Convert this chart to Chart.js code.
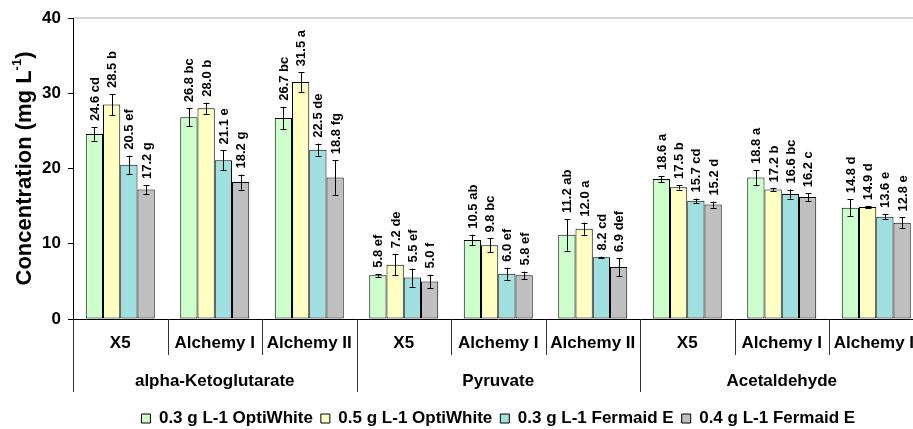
<!DOCTYPE html>
<html>
<head>
<meta charset="utf-8">
<script src="https://cdn.jsdelivr.net/npm/chart.js@4.4.0/dist/chart.umd.min.js"></script>
<style>
html, body { margin: 0; padding: 0; background: #fff; overflow: hidden; }
#caixa { width: 913px; height: 429px; overflow: hidden; }
canvas { display: block; }
</style>
</head>
<body>
<div id="caixa"><canvas id="grafico" width="926" height="429"></canvas></div>
<script>
// dados
const subcategorias = ['X5', 'Alchemy I', 'Alchemy II', 'X5', 'Alchemy I', 'Alchemy II', 'X5', 'Alchemy I', 'Alchemy II'];
const grupos = ['alpha-Ketoglutarate', 'Pyruvate', 'Acetaldehyde'];
const series = ['0.3 g L-1 OptiWhite', '0.5 g L-1 OptiWhite', '0.3 g L-1 Fermaid E', '0.4 g L-1 Fermaid E'];

const optiWhite03 = [24.6, 26.8, 26.7, 5.8, 10.5, 11.2, 18.6, 18.8, 14.8];
const optiWhite05 = [28.5, 28.0, 31.5, 7.2, 9.8, 12.0, 17.5, 17.2, 14.9];
const fermaid03 = [20.5, 21.1, 22.5, 5.5, 6.0, 8.2, 15.7, 16.6, 13.6];
const fermaid04 = [17.2, 18.2, 18.8, 5.0, 5.8, 6.9, 15.2, 16.2, 12.8];

const erroOptiWhite03 = [0.9, 1.2, 1.5, 0.2, 0.7, 2.1, 0.4, 1.0, 1.1];
const erroOptiWhite05 = [1.4, 0.75, 1.3, 1.4, 0.9, 0.8, 0.3, 0.15, 0.1];
const erroFermaid03 = [1.2, 1.3, 0.8, 1.2, 0.8, 0.1, 0.3, 0.6, 0.35];
const erroFermaid04 = [0.6, 1.0, 2.3, 0.9, 0.5, 1.2, 0.4, 0.5, 0.7];

const letrasOptiWhite03 = ['cd', 'bc', 'bc', 'ef', 'ab', 'ab', 'a', 'a', 'd'];
const letrasOptiWhite05 = ['b', 'b', 'a', 'de', 'bc', 'a', 'b', 'b', 'd'];
const letrasFermaid03 = ['ef', 'e', 'de', 'ef', 'ef', 'cd', 'cd', 'bc', 'e'];
const letrasFermaid04 = ['g', 'g', 'fg', 'f', 'ef', 'def', 'd', 'c', 'e'];

const yTicks = [0, 10, 20, 30, 40];

const cores = ['#CCFFCC', '#FFFFC4', '#A0E0E0', '#C0C0C0'];
const valores = [optiWhite03, optiWhite05, fermaid03, fermaid04];
const erros = [erroOptiWhite03, erroOptiWhite05, erroFermaid03, erroFermaid04];
const letras = [letrasOptiWhite03, letrasOptiWhite05, letrasFermaid03, letrasFermaid04];

const fonte = '"Liberation Sans", Arial, sans-serif';
Chart.defaults.font.family = fonte;

// barras de erro, rotulos, eixo x agrupado e titulo do eixo y
const desenhoExtra = {
    id: 'desenhoExtra',
    beforeDraw(chart) {
        const ctx = chart.ctx;
        const area = chart.chartArea;
        ctx.save();
        ctx.strokeStyle = '#d4d4d4';
        ctx.lineWidth = 2;
        ctx.beginPath();
        ctx.moveTo(area.left, area.top);
        ctx.lineTo(area.right, area.top);
        ctx.lineTo(area.right, area.bottom);
        ctx.stroke();
        ctx.restore();
    },
    afterDatasetsDraw(chart) {
        const ctx = chart.ctx;
        const yScale = chart.scales.y;
        ctx.save();
        ctx.strokeStyle = '#000';
        ctx.fillStyle = '#000';
        ctx.lineWidth = 1;
        ctx.font = 'bold 13px ' + fonte;
        valores.forEach((serie, d) => {
            const meta = chart.getDatasetMeta(d);
            meta.data.forEach((barra, i) => {
                const x = Math.round(barra.x) + 0.5;
                const yTopo = yScale.getPixelForValue(serie[i] + erros[d][i]);
                const yBase = yScale.getPixelForValue(serie[i] - erros[d][i]);
                ctx.beginPath();
                ctx.moveTo(x, yTopo);
                ctx.lineTo(x, yBase);
                ctx.moveTo(x - 3, Math.round(yTopo) + 0.5);
                ctx.lineTo(x + 3, Math.round(yTopo) + 0.5);
                ctx.moveTo(x - 3, Math.round(yBase) + 0.5);
                ctx.lineTo(x + 3, Math.round(yBase) + 0.5);
                ctx.stroke();

                ctx.save();
                ctx.translate(barra.x + 1, yTopo - 6);
                ctx.rotate(-Math.PI / 2);
                ctx.textAlign = 'left';
                ctx.textBaseline = 'middle';
                ctx.fillText(serie[i].toFixed(1) + ' ' + letras[d][i], 0, 0);
                ctx.restore();
            });
        });
        ctx.restore();
    },
    afterDraw(chart) {
        const ctx = chart.ctx;
        const xScale = chart.scales.x;
        const area = chart.chartArea;
        const largura = xScale.getPixelForValue(1) - xScale.getPixelForValue(0);
        ctx.save();
        ctx.strokeStyle = '#333';
        ctx.lineWidth = 1;
        for (let i = 0; i <= subcategorias.length; i++) {
            const x = Math.round(xScale.getPixelForValue(0) - largura / 2 + i * largura) + 0.5;
            const fim = (i % 3 == 0) ? 392 : 355;
            ctx.beginPath();
            ctx.moveTo(x, area.bottom);
            ctx.lineTo(x, fim);
            ctx.stroke();
        }
        ctx.fillStyle = '#000';
        ctx.font = 'bold 17px ' + fonte;
        ctx.textAlign = 'center';
        ctx.textBaseline = 'middle';
        subcategorias.forEach((nome, i) => {
            ctx.fillText(nome, xScale.getPixelForValue(i), 343);
        });
        grupos.forEach((nome, g) => {
            ctx.fillText(nome, xScale.getPixelForValue(g * 3 + 1), 381);
        });

        // titulo do eixo y com expoente
        const meio = (area.top + area.bottom) / 2;
        const parte1 = 'Concentration (mg L';
        const sobrescrito = '-1';
        const parte2 = ')';
        ctx.translate(25, meio);
        ctx.rotate(-Math.PI / 2);
        ctx.textAlign = 'left';
        ctx.font = 'bold 22px ' + fonte;
        const w1 = ctx.measureText(parte1).width;
        const w3 = ctx.measureText(parte2).width;
        ctx.font = 'bold 13px ' + fonte;
        const w2 = ctx.measureText(sobrescrito).width;
        let x0 = -(w1 + w2 + w3) / 2;
        ctx.font = 'bold 22px ' + fonte;
        ctx.fillText(parte1, x0, 0);
        ctx.font = 'bold 13px ' + fonte;
        ctx.fillText(sobrescrito, x0 + w1, -8);
        ctx.font = 'bold 22px ' + fonte;
        ctx.fillText(parte2, x0 + w1 + w2, 0);
        ctx.restore();
    }
};

const ctx = document.getElementById('grafico').getContext('2d');
new Chart(ctx, {
    type: 'bar',
    data: {
        labels: subcategorias,
        datasets: series.map((nome, d) => ({
            label: nome,
            data: valores[d],
            backgroundColor: cores[d],
            borderColor: '#000',
            borderWidth: 1,
            borderSkipped: false,
            categoryPercentage: 0.73,
            barPercentage: 1.0
        }))
    },
    options: {
        responsive: false,
        animation: false,
        layout: { padding: { top: 18, right: 2.5, left: 0, bottom: -8 } },
        plugins: {
            legend: {
                position: 'bottom',
                fullSize: false,
                labels: {
                    boxWidth: 9,
                    boxHeight: 9,
                    padding: 8,
                    color: '#000',
                    font: { size: 17, weight: 'bold' }
                }
            },
            tooltip: { enabled: false }
        },
        scales: {
            x: {
                offset: true,
                ticks: { display: false },
                grid: { display: false },
                border: { color: '#000' },
                afterFit(scale) { scale.height = 83; }
            },
            y: {
                min: 0,
                max: 40,
                afterBuildTicks(scale) { scale.ticks = yTicks.map(v => ({ value: v })); },
                ticks: { color: '#000', padding: 7, font: { size: 17, weight: 'bold' } },
                grid: { drawOnChartArea: false, tickLength: 5, color: '#000' },
                border: { color: '#000' },
                afterFit(scale) { scale.width = 73; }
            }
        }
    },
    plugins: [desenhoExtra]
});
</script>
</body>
</html>
